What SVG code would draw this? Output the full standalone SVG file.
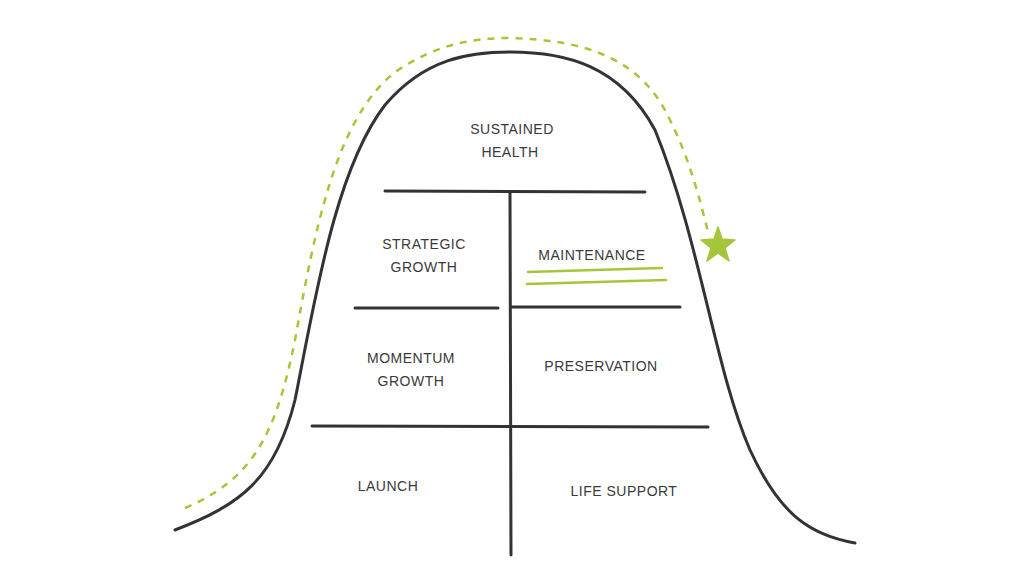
<svg xmlns="http://www.w3.org/2000/svg" width="1024" height="576" viewBox="0 0 1024 576">
<style>
.ln{fill:none;stroke:#333;stroke-width:3;stroke-linecap:round}
.t{font-family:"Liberation Sans",sans-serif;font-size:14px;fill:#3a3a3a;text-anchor:middle;letter-spacing:0.5px}
</style>
<rect width="1024" height="576" fill="#fff"/>
<g id="connectors">
<path class="ln" d="M175,530 C240,505 275,480 295,400 C315,300 335,170 385,105 C425,58 470,52 510,52 C565,52 620,65 655,130 C700,240 715,370 750,450 C780,515 810,535 855,543"/>
<path d="M185,508 C250,480 275,440 295,340 C315,230 335,120 395,72 C435,45 470,38 510,38 C580,40 640,55 670,120 C690,160 700,200 708,232" fill="none" stroke="#a5c63b" stroke-width="2.5" stroke-dasharray="7,7"/>
<path d="M718,227 L722,239 L735,240 L725,248 L729,261 L718,253 L707,261 L711,248 L701,240 L714,239 Z" fill="#a5c63b" stroke="#a5c63b" stroke-width="1.5" stroke-linejoin="round"/>
<path class="ln" d="M385,191 L645,192"/>
<path class="ln" d="M510,193 L511,555"/>
<path class="ln" d="M355,308 L498,308"/>
<path class="ln" d="M512,307 L680,307"/>
<path class="ln" d="M312,426 L708,427"/>
<path d="M528,272 L662,268 M527,284 L666,280" fill="none" stroke="#a5c63b" stroke-width="2.5" stroke-linecap="round"/>
</g>
<g id="sustained"><text class="t" x="512" y="134">SUSTAINED</text><text class="t" x="510" y="157">HEALTH</text></g>
<g id="strategic"><text class="t" x="424" y="249">STRATEGIC</text><text class="t" x="424" y="272">GROWTH</text></g>
<g id="maintenance"><text class="t" x="592" y="260">MAINTENANCE</text></g>
<g id="momentum"><text class="t" x="411" y="363">MOMENTUM</text><text class="t" x="411" y="386">GROWTH</text></g>
<g id="preservation"><text class="t" x="601" y="371">PRESERVATION</text></g>
<g id="launch"><text class="t" x="388" y="491">LAUNCH</text></g>
<g id="lifesupport"><text class="t" x="624" y="496">LIFE SUPPORT</text></g>
</svg>
